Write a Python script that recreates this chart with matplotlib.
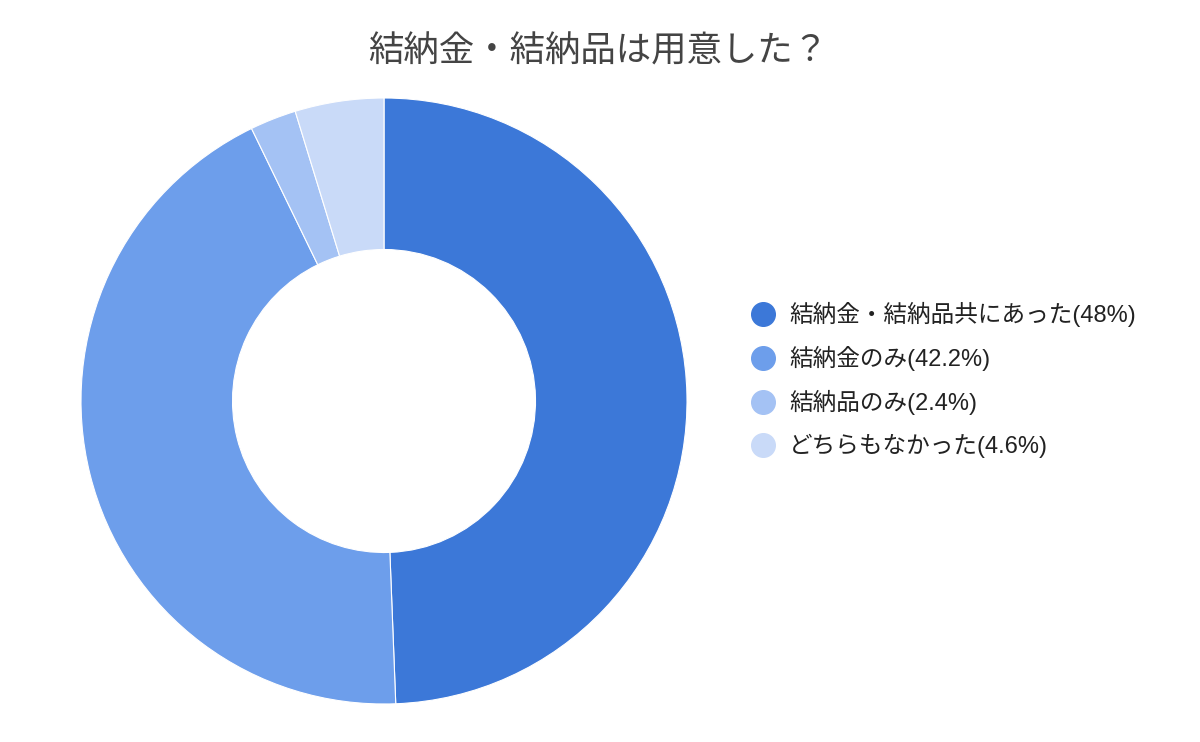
import matplotlib
matplotlib.use('Agg')
import matplotlib.pyplot as plt
from matplotlib.lines import Line2D

plt.rcParams['font.family'] = ['Liberation Sans', 'Noto Sans CJK JP', 'DejaVu Sans']

title = '結納金・結納品は用意した？'
labels = ['結納金・結納品共にあった(48%)', '結納金のみ(42.2%)',
          '結納品のみ(2.4%)', 'どちらもなかった(4.6%)']
values = [48, 42.2, 2.4, 4.6]
colors = ['#3c78d8', '#6d9eeb', '#a4c2f4', '#c9daf8']

W, H = 1200, 742
fig = plt.figure(figsize=(W / 100, H / 100), dpi=100)
fig.patch.set_facecolor('white')

# donut: centre (384, 401) px, outer radius 303 px
cx, cy, r = 384, 401, 303
ax = fig.add_axes([(cx - r) / W, (H - cy - r) / H, 2 * r / W, 2 * r / H])
ax.pie(values, colors=colors, startangle=90, counterclock=False, radius=1,
       wedgeprops=dict(width=0.5, edgecolor='white', linewidth=0.8))
ax.set_xlim(-1, 1)
ax.set_ylim(-1, 1)
ax.set_aspect('equal')
ax.axis('off')

fig.text(598 / W, 1 - 52 / H, title, ha='center', va='center',
         fontsize=25.5, color='#444444')

handles = [Line2D([], [], marker='o', linestyle='none', markersize=17,
                  markerfacecolor=c, markeredgecolor=c) for c in colors]
leg = fig.legend(handles, labels, loc='center left',
                 bbox_to_anchor=(742 / W, 1 - 380 / H), frameon=False,
                 fontsize=17, handletextpad=0.6, labelspacing=0.8,
                 handlelength=1.0, borderaxespad=0)
for t in leg.get_texts():
    t.set_color('#222222')

fig.savefig('out.png', dpi=100, facecolor='white')
